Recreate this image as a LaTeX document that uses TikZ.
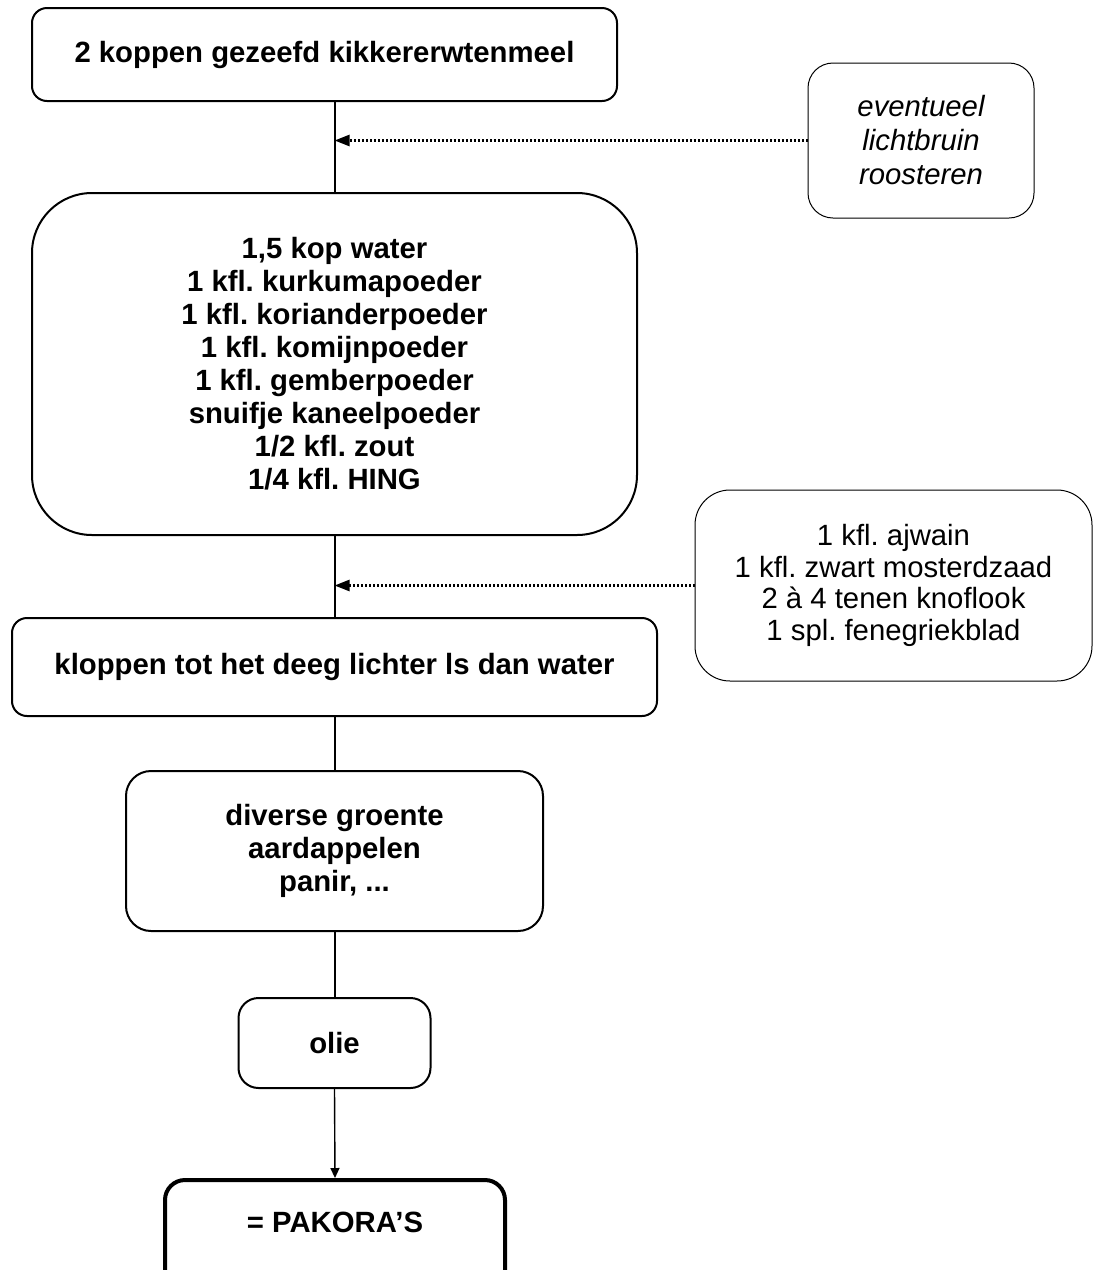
\documentclass[tikz,border=0pt]{standalone}
\usepackage{fontspec}
\setmainfont{Liberation Sans}
\usetikzlibrary{arrows.meta}
\frenchspacing

\begin{document}
\begin{tikzpicture}[x=1pt,y=-1pt,
  stap/.style={draw,line width=2pt,rounded corners=#1,align=center,inner sep=0pt,
    font=\fontsize{29.3}{33}\selectfont\bfseries},
  stap/.default=15pt,
  extra/.style={draw,line width=1pt,rounded corners=#1,align=center,inner sep=0pt,
    font=\fontsize{29.3}{31.5}\selectfont},
  extra/.default=30pt,
  lijn/.style={line width=2pt},
  toevoeg/.style={line width=2.5pt,dash pattern=on 2pt off 2pt,-{Triangle[length=15pt,width=11pt]}},
  ]
  \useasboundingbox (0,0) rectangle (1100,1270);
  \clip (0,0) rectangle (1100,1270);

  % hoofdlijn
  \node[stap] (meel) at (324.5,54.5) [minimum width=585pt,minimum height=93pt]
    {2 koppen gezeefd kikkererwtenmeel};
  \node[stap=60pt] (kruiden) at (334.5,364) [minimum width=605pt,minimum height=342pt]
    {1,5 kop water\\1 kfl. kurkumapoeder\\1 kfl. korianderpoeder\\1 kfl. komijnpoeder\\
     1 kfl. gemberpoeder\\snuifje kaneelpoeder\\1/2 kfl. zout\\1/4 kfl. HING};
  \node[stap] (kloppen) at (334.5,667) [minimum width=645pt,minimum height=98pt]
    {kloppen tot het deeg lichter ls dan water};
  \node[stap=25pt] (groente) at (334.5,851) [minimum width=417pt,minimum height=160pt]
    {diverse groente\\aardappelen\\panir, ...};
  \node[stap=20pt] (olie) at (334.5,1043) [minimum width=192pt,minimum height=90pt]
    {olie};
  \node[stap=20pt,line width=4pt] (pakora) at (335,1235) [minimum width=340pt,minimum height=110pt,
    text height=21pt,text depth=27pt] {= PAKORA'S};

  % toevoegingen
  \node[extra=25pt,font=\fontsize{29.3}{34}\selectfont\itshape] (rooster) at (921,140.5)
    [minimum width=226pt,minimum height=155pt] {eventueel\\lichtbruin\\roosteren};
  \node[extra=35pt] (extra) at (893.5,585.5) [minimum width=397pt,minimum height=191pt]
    {1 kfl. ajwain\\1 kfl. zwart mosterdzaad\\2 à 4 tenen knoflook\\1 spl. fenegriekblad};

  \draw[lijn] (kruiden.north |- meel.south) -- (kruiden.north);
  \draw[lijn] (kruiden.south) -- (kloppen.north);
  \draw[lijn] (kloppen.south) -- (groente.north);
  \draw[lijn] (groente.south) -- (olie.north);
  \draw[line width=1.4pt,-{Triangle[length=10pt,width=9pt]}] (olie.south) -- (pakora.north);

  \draw[toevoeg] (rooster.west) -- (rooster.west -| kruiden.north);
  \draw[toevoeg] (extra.west) -- (extra.west -| kruiden.north);
\end{tikzpicture}
\end{document}
